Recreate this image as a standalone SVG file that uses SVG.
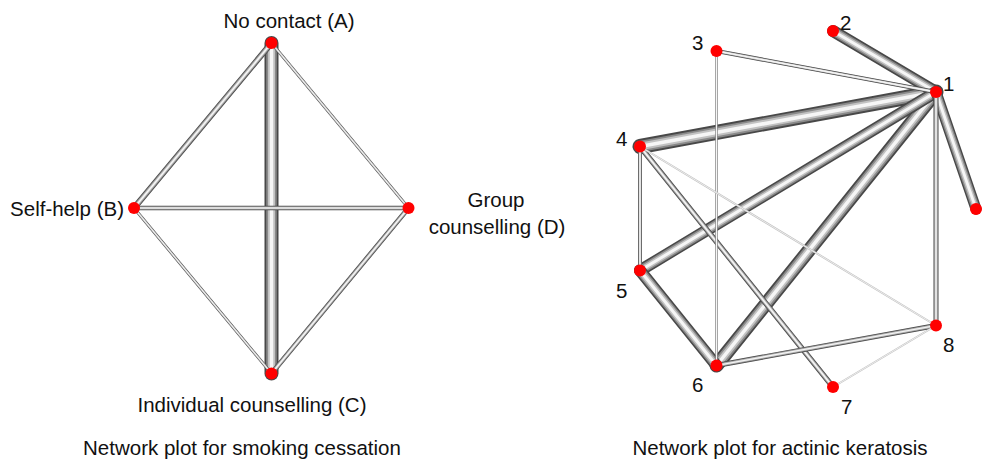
<svg xmlns="http://www.w3.org/2000/svg" xmlns:xlink="http://www.w3.org/1999/xlink" width="984" height="460" viewBox="0 0 984 460">
<style>
  text { font-family: "Liberation Sans", Arial, sans-serif; font-size: 20.5px; fill: #111; }
  .mid { text-anchor: middle; }
  .end { text-anchor: end; }
  .node { fill: #ff0000; }
  use { stroke-linecap: round; fill: none; }
  .t1 { stroke: #484848; }
  .t2 { stroke: #8a8a8a; }
  .t3 { stroke: #c2c2c2; }
  .t4 { stroke: #f6f6f6; }
</style>
<defs>
  <line id="lAC" x1="271.5" y1="43" x2="271.5" y2="373.5"/>
  <line id="lAB" x1="271.5" y1="43" x2="134" y2="208"/>
  <line id="lCD" x1="271.5" y1="373.5" x2="408.5" y2="208"/>
  <line id="lBD" x1="134" y1="208" x2="408.5" y2="208"/>
  <line id="lAD" x1="271.5" y1="43" x2="408.5" y2="208"/>
  <line id="lBC" x1="134" y1="208" x2="271.5" y2="373.5"/>

  <line id="l14" x1="936" y1="92" x2="640" y2="146.5"/>
  <line id="l16" x1="936" y1="92" x2="716.5" y2="365.5"/>
  <line id="l12" x1="936" y1="92" x2="833" y2="31"/>
  <line id="l15" x1="936" y1="92" x2="640" y2="270.5"/>
  <line id="l56" x1="640" y1="270.5" x2="716.5" y2="365.5"/>
  <line id="l19" x1="936" y1="92" x2="976" y2="209"/>
  <line id="l47" x1="640" y1="146.5" x2="833" y2="387"/>
  <line id="l68" x1="716.5" y1="365.5" x2="936" y2="325.5"/>
  <line id="l18" x1="936" y1="92" x2="936" y2="325.5"/>
  <line id="l13" x1="936" y1="92" x2="716.5" y2="51"/>
  <line id="l45" x1="640" y1="146.5" x2="640" y2="270.5"/>
  <line id="l36" x1="716.5" y1="51" x2="716.5" y2="365.5"/>
  <line id="l48" x1="640" y1="146.5" x2="936" y2="325.5"/>
  <line id="l78" x1="833" y1="387" x2="936" y2="325.5"/>
</defs>

<g id="connectors">
  <g id="edge-A-C"><use href="#lAC" class="t1" stroke-width="14"/><use href="#lAC" class="t2" stroke-width="10.5"/><use href="#lAC" class="t3" stroke-width="7"/><use href="#lAC" class="t4" stroke-width="3.5"/></g>
  <g id="edge-A-B"><use href="#lAB" class="t1" stroke-width="6"/><use href="#lAB" class="t2" stroke-width="4.5"/><use href="#lAB" class="t3" stroke-width="3"/><use href="#lAB" class="t4" stroke-width="1.5"/></g>
  <g id="edge-C-D"><use href="#lCD" class="t1" stroke-width="5"/><use href="#lCD" class="t2" stroke-width="3.75"/><use href="#lCD" class="t3" stroke-width="2.5"/><use href="#lCD" class="t4" stroke-width="1.25"/></g>
  <g id="edge-B-D"><use href="#lBD" class="t1" stroke-width="4.5"/><use href="#lBD" class="t2" stroke-width="3.4"/><use href="#lBD" class="t3" stroke-width="2.2"/><use href="#lBD" class="t4" stroke-width="1.1"/></g>
  <g id="edge-A-D"><use href="#lAD" class="t1" stroke-width="3"/><use href="#lAD" class="t3" stroke-width="2"/><use href="#lAD" class="t4" stroke-width="1"/></g>
  <g id="edge-B-C"><use href="#lBC" class="t1" stroke-width="3"/><use href="#lBC" class="t3" stroke-width="2"/><use href="#lBC" class="t4" stroke-width="1"/></g>

  <g id="edge-1-4"><use href="#l14" class="t1" stroke-width="15"/><use href="#l14" class="t2" stroke-width="11.25"/><use href="#l14" class="t3" stroke-width="7.5"/><use href="#l14" class="t4" stroke-width="3.75"/></g>
  <g id="edge-1-6"><use href="#l16" class="t1" stroke-width="14"/><use href="#l16" class="t2" stroke-width="10.5"/><use href="#l16" class="t3" stroke-width="7"/><use href="#l16" class="t4" stroke-width="3.5"/></g>
  <g id="edge-1-2"><use href="#l12" class="t1" stroke-width="12"/><use href="#l12" class="t2" stroke-width="9"/><use href="#l12" class="t3" stroke-width="6"/><use href="#l12" class="t4" stroke-width="3"/></g>
  <g id="edge-1-5"><use href="#l15" class="t1" stroke-width="12"/><use href="#l15" class="t2" stroke-width="9"/><use href="#l15" class="t3" stroke-width="6"/><use href="#l15" class="t4" stroke-width="3"/></g>
  <g id="edge-5-6"><use href="#l56" class="t1" stroke-width="12"/><use href="#l56" class="t2" stroke-width="9"/><use href="#l56" class="t3" stroke-width="6"/><use href="#l56" class="t4" stroke-width="3"/></g>
  <g id="edge-1-9"><use href="#l19" class="t1" stroke-width="11"/><use href="#l19" class="t2" stroke-width="8.25"/><use href="#l19" class="t3" stroke-width="5.5"/><use href="#l19" class="t4" stroke-width="2.75"/></g>
  <g id="edge-4-7"><use href="#l47" class="t1" stroke-width="5.5"/><use href="#l47" class="t2" stroke-width="4.1"/><use href="#l47" class="t3" stroke-width="2.75"/><use href="#l47" class="t4" stroke-width="1.4"/></g>
  <g id="edge-6-8"><use href="#l68" class="t1" stroke-width="5"/><use href="#l68" class="t2" stroke-width="3.75"/><use href="#l68" class="t3" stroke-width="2.5"/><use href="#l68" class="t4" stroke-width="1.25"/></g>
  <g id="edge-1-8"><use href="#l18" class="t1" stroke-width="5"/><use href="#l18" class="t2" stroke-width="3.75"/><use href="#l18" class="t3" stroke-width="2.5"/><use href="#l18" class="t4" stroke-width="1.25"/></g>
  <g id="edge-1-3"><use href="#l13" class="t1" stroke-width="4"/><use href="#l13" class="t3" stroke-width="2.6"/><use href="#l13" class="t4" stroke-width="1.3"/></g>
  <g id="edge-4-5"><use href="#l45" class="t1" stroke-width="4"/><use href="#l45" class="t3" stroke-width="2.6"/><use href="#l45" class="t4" stroke-width="1.3"/></g>
  <g id="edge-3-6"><use href="#l36" class="t2" stroke-width="2.5"/><use href="#l36" class="t4" stroke-width="1"/></g>
  <g id="edge-4-8"><use href="#l48" class="t3" stroke-width="2"/><use href="#l48" class="t4" stroke-width="0.8"/></g>
  <g id="edge-7-8"><use href="#l78" class="t3" stroke-width="2"/><use href="#l78" class="t4" stroke-width="0.8"/></g>
</g>

<g id="node-A"><circle class="node" cx="271.5" cy="43" r="6"/><text class="mid" x="289" y="28">No contact (A)</text></g>
<g id="node-B"><circle class="node" cx="134" cy="208" r="6"/><text class="end" x="124" y="216">Self-help (B)</text></g>
<g id="node-C"><circle class="node" cx="271.5" cy="373.5" r="6"/><text class="mid" x="252" y="412">Individual counselling (C)</text></g>
<g id="node-D"><circle class="node" cx="408.5" cy="208" r="6"/><text class="mid" x="496" y="207">Group</text><text class="mid" x="497" y="234">counselling (D)</text></g>

<g id="node-1"><circle class="node" cx="936" cy="92" r="6"/><text x="943" y="91">1</text></g>
<g id="node-2"><circle class="node" cx="833" cy="31" r="6"/><text x="840" y="30">2</text></g>
<g id="node-3"><circle class="node" cx="716.5" cy="51" r="6"/><text x="692" y="50">3</text></g>
<g id="node-4"><circle class="node" cx="640" cy="146.5" r="6"/><text x="616" y="146">4</text></g>
<g id="node-5"><circle class="node" cx="640" cy="270.5" r="6"/><text x="616" y="298">5</text></g>
<g id="node-6"><circle class="node" cx="716.5" cy="365.5" r="6"/><text x="692" y="392">6</text></g>
<g id="node-7"><circle class="node" cx="833" cy="387" r="6"/><text x="841" y="414">7</text></g>
<g id="node-8"><circle class="node" cx="936" cy="325.5" r="6"/><text x="943" y="352">8</text></g>
<g id="node-9"><circle class="node" cx="976" cy="209" r="6"/></g>

<g id="titles">
  <text class="mid" x="242" y="455">Network plot for smoking cessation</text>
  <text class="mid" x="780" y="455">Network plot for actinic keratosis</text>
</g>
</svg>
